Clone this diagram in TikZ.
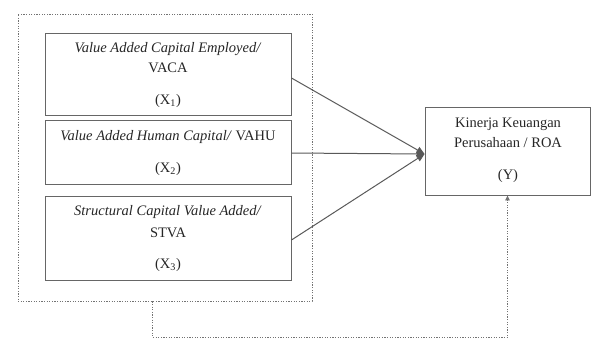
\documentclass[tikz,border=0pt]{standalone}
\usepackage{fontspec}
\setmainfont{Liberation Serif}
\usetikzlibrary{arrows.meta,calc}
\tikzset{
  box/.style={draw=black!60, line width=0.9pt, minimum width=#1, inner sep=0pt, rectangle},
  lbl/.style={align=center, inner sep=0pt, text=black!85, font=\fontsize{14.5}{20}\selectfont},
  outerbox/.style={draw=black!55, line width=0.9pt, dash pattern=on 1.2pt off 1.4pt, inner sep=0pt},
  conn/.style={draw=black!65, line width=1pt, -{Triangle[length=8pt,width=7pt]}},
  fb/.style={draw=black!55, line width=0.9pt, dash pattern=on 1.2pt off 1.4pt, -{Triangle[length=5pt,width=4.5pt]}}
}
\begin{document}
\begin{tikzpicture}[x=1pt,y=-1pt]
\useasboundingbox (0,0) rectangle (591,338);
% outer dotted frame
\node[outerbox, minimum width=294pt, minimum height=287pt] (outer) at (165,157.5) {};
% independent variable boxes
\node[box=246pt, minimum height=82pt] (b1) at (168,74) {};
\node[box=246pt, minimum height=64pt] (b2) at (168,152) {};
\node[box=246pt, minimum height=84pt] (b3) at (168,238) {};
\node[box=165pt, minimum height=88pt] (Y) at (507.5,151) {};
% texts
\node[lbl] (t1) at (168,75) {\textit{Value Added Capital Employed/}\\ VACA\\[12pt] (X\textsubscript{1})};
\node[lbl] (t2) at (168,153) {\textit{Value Added Human Capital/} VAHU\\[12pt] (X\textsubscript{2})};
\node[lbl] (t3) at (168,238.6) {\textit{Structural Capital Value Added/}\\[2pt] STVA\\[11pt] (X\textsubscript{3})};
\node[lbl] (tY) at (508,150) {Kinerja Keuangan\\ Perusahaan / ROA\\[12pt] (Y)};
% connectors
\draw[conn] ([yshift=-4pt]b1.east) -- ([yshift=-3pt]Y.west);
\draw[conn] ([yshift=-1pt]b2.east) -- ([yshift=-3pt]Y.west);
\draw[conn] ([yshift=-2pt]b3.east) -- ([yshift=-3pt]Y.west);
% feedback dotted connector
\draw[fb] ([xshift=135pt]outer.south west) -- ++(0,36) -| (Y.south);
\end{tikzpicture}
\end{document}
